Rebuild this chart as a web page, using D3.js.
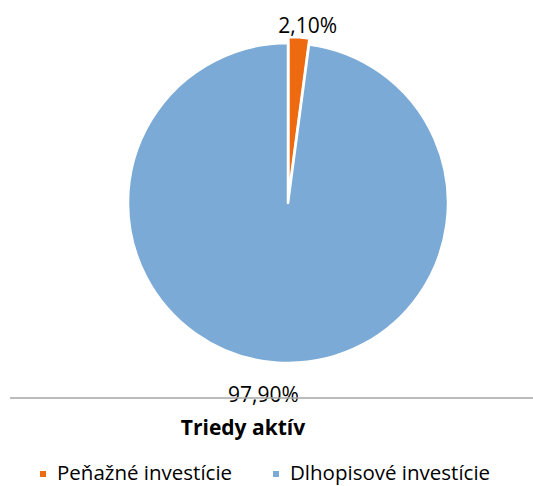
<!DOCTYPE html>
<html>
<head>
<meta charset="utf-8">
<script src="https://cdn.jsdelivr.net/npm/d3@7"></script>
<style>
  body { margin: 0; background: #fff; }
  text { font-family: "Open Sans", sans-serif; }
</style>
</head>
<body>
<div id="chart"></div>
<script>
let categories = ["Peňažné investície", "Dlhopisové investície"];
let values = [2.1, 97.9];
let labels = ["2,10%", "97,90%"];
let colors = ["#ED6A10", "#7BAAD6"];

let width = 533, height = 486;
let cx = 288, cy = 203, radius = 160;

let svg = d3.select("#chart").append("svg")
    .attr("width", width)
    .attr("height", height);

let pie = d3.pie()
    .sort(null)
    .value(d => d.value);

let arc = d3.arc()
    .innerRadius(0)
    .outerRadius(radius);

let data = categories.map((c, i) => ({name: c, value: values[i], label: labels[i], color: colors[i]}));
let arcs = pie(data);

let g = svg.append("g")
    .attr("transform", "translate(" + cx + "," + cy + ")");

// small slice pulled out a bit
let explode = [6, 0];

g.selectAll("path")
  .data(arcs)
  .enter()
  .append("path")
  .attr("d", arc)
  .attr("fill", d => d.data.color)
  .attr("stroke", "#fff")
  .attr("stroke-width", 2.5)
  .attr("stroke-linejoin", "round")
  .attr("transform", (d, i) => {
      let a = (d.startAngle + d.endAngle) / 2;
      return "translate(" + (Math.sin(a) * explode[i]) + "," + (-Math.cos(a) * explode[i]) + ")";
  });

// gray line under chart
svg.append("line")
  .attr("x1", 10).attr("x2", width)
  .attr("y1", 398).attr("y2", 398)
  .attr("stroke", "#A6A6A6")
  .attr("stroke-width", 1.3);

// data labels outside end
let labelR = [178, 191];
let labelDx = [8, -12];
g.selectAll("text.lbl")
  .data(arcs)
  .enter()
  .append("text")
  .attr("class", "lbl")
  .attr("x", (d, i) => Math.sin((d.startAngle + d.endAngle) / 2) * labelR[i] + labelDx[i])
  .attr("y", (d, i) => -Math.cos((d.startAngle + d.endAngle) / 2) * labelR[i])
  .attr("text-anchor", "middle")
  .attr("dominant-baseline", "central")
  .attr("font-size", 21)
  .attr("fill", "#000")
  .text(d => d.data.label);

svg.append("text")
  .attr("x", 243)
  .attr("y", 435)
  .attr("text-anchor", "middle")
  .attr("font-size", 21)
  .attr("font-weight", "bold")
  .attr("fill", "#000")
  .text("Triedy aktív");

// legend
let legendX = [40, 273];
let legend = svg.selectAll("g.leg")
  .data(data)
  .enter()
  .append("g")
  .attr("class", "leg")
  .attr("transform", (d, i) => "translate(" + legendX[i] + ",472)");

legend.append("rect")
  .attr("x", 0).attr("y", -1)
  .attr("width", 6).attr("height", 6)
  .attr("fill", d => d.color);

legend.append("text")
  .attr("x", 17)
  .attr("y", 0)
  .attr("dominant-baseline", "central")
  .attr("font-size", 20.5)
  .attr("fill", "#000")
  .text(d => d.name);
</script>
</body>
</html>
